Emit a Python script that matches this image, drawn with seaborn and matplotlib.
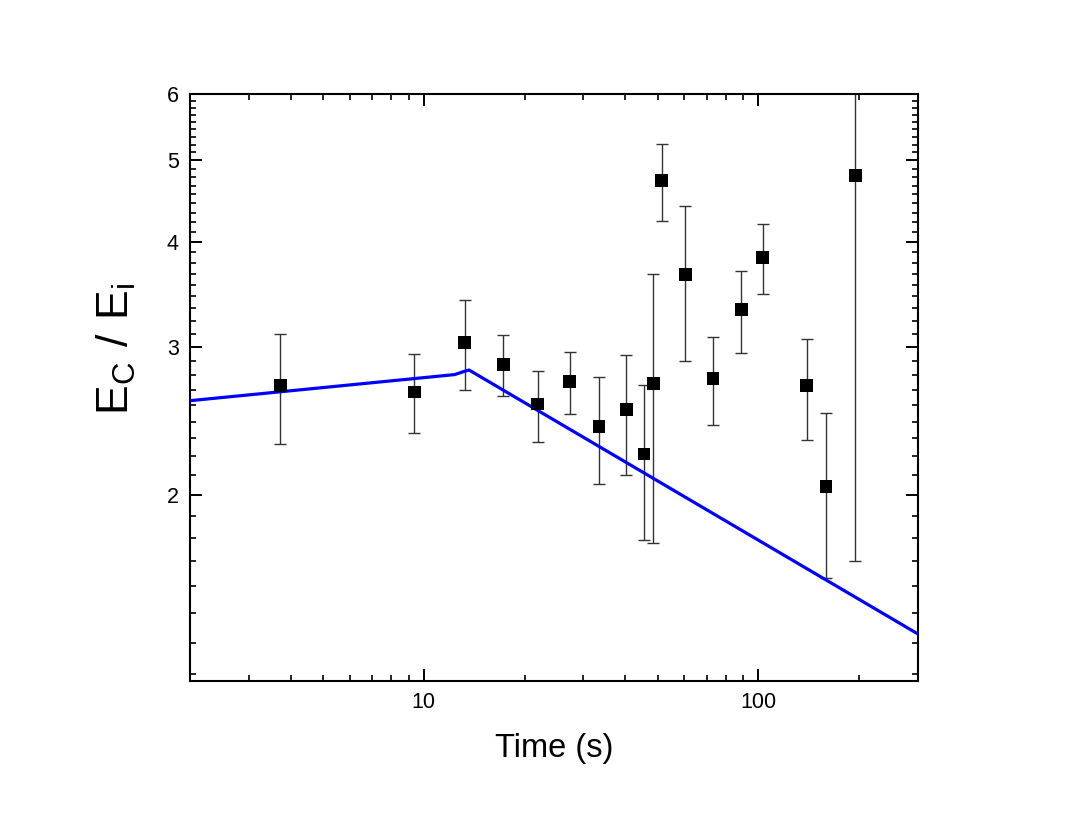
import numpy as np
import pandas as pd
import matplotlib
matplotlib.use("Agg")
import matplotlib.pyplot as plt
import matplotlib.ticker as mticker
import seaborn as sns

# ---- data ----
time_s = [3.72, 9.36, 13.23, 17.29, 21.89, 27.28, 33.37, 40.27, 45.5, 48.5,
          51.4, 60.4, 73.2, 88.8, 103.0, 139.4, 159.2, 194.9]
ratio = [2.70, 2.65, 3.035, 2.855, 2.564, 2.728, 2.41, 2.524, 2.236, 2.711,
         4.73, 3.654, 2.748, 3.326, 3.83, 2.697, 2.044, 4.80]
ratio_upper = [3.11, 2.94, 3.41, 3.10, 2.81, 2.956, 2.758, 2.936, 2.704, 3.66,
               5.23, 4.41, 3.08, 3.695, 4.20, 3.064, 2.499, 7.0]
ratio_lower = [2.30, 2.371, 2.667, 2.618, 2.314, 2.497, 2.06, 2.11, 1.764, 1.754,
               4.23, 2.888, 2.418, 2.951, 3.467, 2.325, 1.592, 1.667]

fit_time = [2.0, 12.37, 13.19, 13.65, 300.0]
fit_ratio = [2.588, 2.78, 2.804, 2.815, 1.365]

y_major = [2, 3, 4, 5, 6]
x_major = [10, 100]

# ---- style ----
sns.set_style("ticks")
plt.rcParams["font.family"] = ["Liberation Sans", "DejaVu Sans"]
plt.rcParams["mathtext.default"] = "regular"
plt.rcParams["text.color"] = "black"
plt.rcParams["axes.labelcolor"] = "black"

fig = plt.figure(figsize=(10.67, 8.17), dpi=100)
ax = fig.add_axes([190 / 1067, 1 - 681 / 817, (918 - 190) / 1067, (681 - 94) / 817])

df = pd.DataFrame({"t": time_s, "r": ratio})
fit_df = pd.DataFrame({"t": fit_time, "r": fit_ratio})

yerr = np.array([np.array(ratio) - np.array(ratio_lower),
                 np.array(ratio_upper) - np.array(ratio)])
ax.errorbar(time_s, ratio, yerr=yerr, fmt="none", ecolor="#333333",
            elinewidth=1.0, capsize=4.5, capthick=1.0, zorder=2)

sns.lineplot(data=fit_df, x="t", y="r", ax=ax, color="#0000ff", lw=2.3,
             sort=False, zorder=3, legend=False)
sns.scatterplot(data=df, x="t", y="r", ax=ax, marker="s", s=85, color="black",
                edgecolor="none", zorder=4, legend=False)

ax.set_xscale("log")
ax.set_yscale("log")
ax.set_xlim(2, 300)
ax.set_ylim(1.2, 6)

ax.xaxis.set_major_locator(mticker.FixedLocator(x_major))
ax.xaxis.set_major_formatter(mticker.FixedFormatter([str(v) for v in x_major]))
ax.xaxis.set_minor_locator(mticker.LogLocator(base=10, subs=np.arange(2, 10)))
ax.xaxis.set_minor_formatter(mticker.NullFormatter())

ax.yaxis.set_major_locator(mticker.FixedLocator(y_major))
ax.yaxis.set_major_formatter(mticker.FixedFormatter([str(v) for v in y_major]))
minor_y = []
for lo in range(1, 6):
    for k in range(1, 9):
        minor_y.append(lo + k / 9)
ax.yaxis.set_minor_locator(mticker.FixedLocator(minor_y))
ax.yaxis.set_minor_formatter(mticker.NullFormatter())

ax.tick_params(which="both", direction="in", top=True, right=True,
               labelsize=15.5, colors="black", labelcolor="black")
ax.tick_params(which="major", length=8.6, width=1.4, pad=8)
ax.tick_params(which="minor", length=4.3, width=1.2)
for sp in ax.spines.values():
    sp.set_linewidth(1.5)
    sp.set_color("black")

ax.set_xlabel("Time (s)", fontsize=23.5, color="black")
ax.set_ylabel(r"$E_C\ /\ E_i$", fontsize=32, color="black")
ax.xaxis.set_label_coords(0.5, -0.088)
ax.yaxis.set_label_coords(-0.072, 0.565)

fig.savefig("out.png", dpi=100, facecolor="white")
